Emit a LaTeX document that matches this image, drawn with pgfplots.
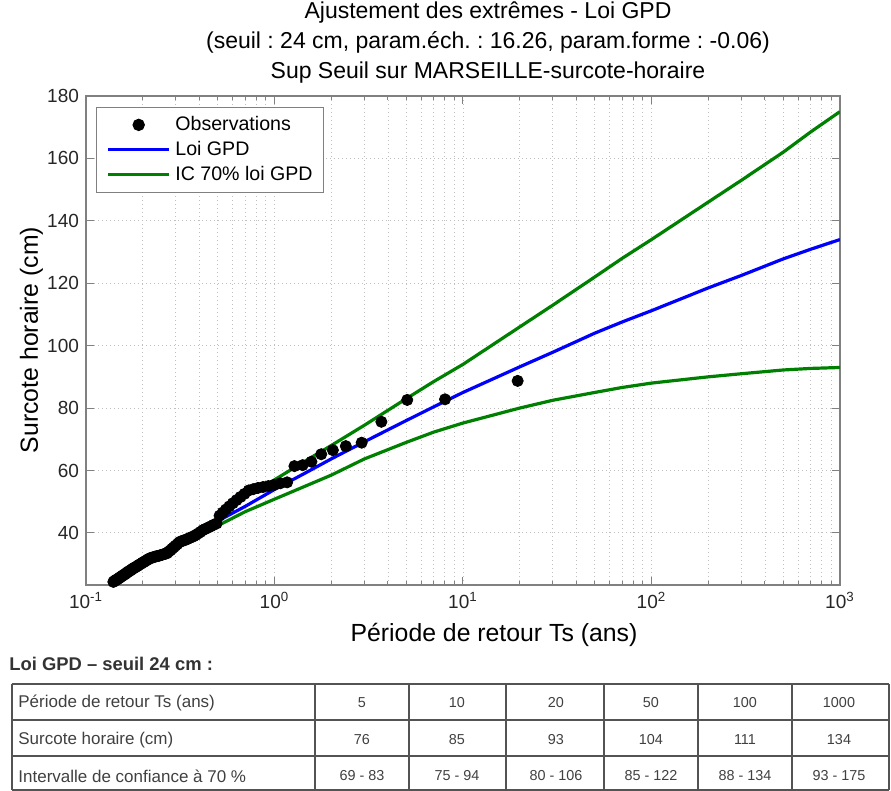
\documentclass[border=0pt]{standalone}
\usepackage{pgfplots}
\pgfplotsset{compat=1.18}
\usepackage{fontspec}
\setmainfont{Liberation Sans}
\definecolor{mgreen}{rgb}{0,0.5,0}
\definecolor{axgray}{rgb}{0.5,0.5,0.5}
\begin{document}
\frenchspacing
\begin{tikzpicture}[font=\fontsize{9.5}{11.4}\selectfont]
\useasboundingbox (-43pt,-103pt) rectangle (402.5pt,292.5pt);
\begin{axis}[
  at={(0pt,0pt)}, anchor=south west,
  scale only axis, width=377pt, height=244.5pt,
  xmode=log, xmin=0.1, xmax=1000, ymin=23.3, ymax=180,
  xtick={0.1,1,10,100,1000},
  xticklabels={10\textsuperscript{-1},10\textsuperscript{0},10\textsuperscript{1},10\textsuperscript{2},10\textsuperscript{3}},
  ytick={40,60,80,100,120,140,160,180},
  /pgf/number format/assume math mode=true,
  tick align=inside,
  major tick length=3.8pt, minor tick length=2pt,
  axis line style={axgray, line width=0.6pt},
  every tick/.style={axgray, line width=0.5pt},
  tick label style={font=\fontsize{9.5}{11.4}\selectfont, black!85},
  xmajorgrids=true, xminorgrids=true, ymajorgrids=true,
  major grid style={gray!50, line width=0.45pt, dash pattern=on 0.5pt off 1.5pt},
  minor grid style={gray!50, line width=0.45pt, dash pattern=on 0.5pt off 1.5pt},
  legend cell align=left,
  legend style={at={(0,1)}, anchor=north west, xshift=5pt, yshift=-5.3pt,
    draw=axgray, line width=0.6pt, fill=white, font=\fontsize{9.8}{11.8}\selectfont,
    inner xsep=5pt, inner ysep=4pt, row sep=2.8pt,
    nodes={inner xsep=0.5pt, inner ysep=0pt, text height=7.5pt, text depth=2.2pt},
    /tikz/every odd column/.append style={column sep=1.8pt}},
  legend image code/.code={\draw[mark repeat=2,mark phase=2,#1] plot coordinates {(0pt,0pt) (15.25pt,0pt) (30.5pt,0pt)};},
]
\addplot[only marks, mark=*, mark size=2.8pt, black, mark options={fill=black}] coordinates {
(19.5,88.7) (8.03,82.8) (5.06,82.6) (3.69,75.6) (2.90,68.9) (2.39,67.8) (2.04,66.5) (1.77,65.2)
(1.57,62.8) (1.41,61.7) (1.276,61.4) (1.167,56.2) (1.075,55.9) (0.9964,55.4) (0.9286,55.0) (0.8694,54.7)
(0.8174,54.4) (0.7712,54.0) (0.7299,53.6) (0.6929,52.5) (0.6594,51.5) (0.6290,50.5) (0.6013,49.5) (0.5759,48.5)
(0.5526,47.5) (0.5311,46.5) (0.5112,45.5) (0.4928,43.0) (0.4756,42.6) (0.4596,42.1) (0.4446,41.7) (0.4306,41.3)
(0.4174,40.9) (0.4050,40.3) (0.3934,39.8) (0.3824,39.3) (0.3719,38.9) (0.3621,38.6) (0.3527,38.3) (0.3438,38.0)
(0.3354,37.7) (0.3273,37.5) (0.3197,37.3) (0.3124,37.0) (0.3054,36.4) (0.2987,35.9) (0.2923,35.4) (0.2862,34.9)
(0.2803,34.4) (0.2746,34.0) (0.2692,33.5) (0.2640,33.3) (0.2590,33.2) (0.2542,33.0) (0.2495,32.9) (0.2451,32.7)
(0.2407,32.6) (0.2366,32.5) (0.2325,32.4) (0.2286,32.2) (0.2249,32.1) (0.2212,32.0) (0.2177,31.8) (0.2143,31.6)
(0.2110,31.3) (0.2078,31.1) (0.2046,30.8) (0.2016,30.6) (0.1987,30.4) (0.1958,30.1) (0.1931,29.9) (0.1904,29.7)
(0.1878,29.4) (0.1852,29.2) (0.1827,29.0) (0.1803,28.8) (0.1780,28.6) (0.1757,28.4) (0.1734,28.1) (0.1713,27.9)
(0.1691,27.7) (0.1671,27.5) (0.1651,27.3) (0.1631,27.0) (0.1612,26.8) (0.1593,26.6) (0.1574,26.4) (0.1556,26.2)
(0.1539,26.0) (0.1522,25.8) (0.1505,25.6) (0.1489,25.4) (0.1472,25.2) (0.1457,25.0) (0.1441,24.9) (0.1426,24.7)
(0.1412,24.5) (0.1397,24.3)
};
\addlegendentry{Observations}
\addplot[blue, line width=1.6pt, mark=none] coordinates {
(0.5,43.8) (0.7,48.5) (1,53.9) (1.5,59.6) (2,63.7) (3,69.2) (5,76) (7,80.4) (10,85) (20,93.2)
(30,97.9) (50,104) (70,107.6) (100,111.2) (200,118.5) (300,122.5) (500,127.8) (700,130.9) (1000,134)
};
\addlegendentry{Loi GPD}
\addplot[mgreen, line width=1.6pt, mark=none] coordinates {
(0.5,46.5) (0.7,51.6) (1,57) (1.5,63.5) (2,68) (3,74.5) (5,83) (7,88.5) (10,94) (20,106)
(30,113) (50,122) (70,128) (100,134) (200,146) (300,153) (500,162) (700,168.5) (1000,175)
};
\addlegendentry{IC 70\% loi GPD}
\addplot[mgreen, line width=1.6pt, mark=none, forget plot] coordinates {
(0.5,42.3) (0.7,46.8) (1,50.8) (1.5,55.3) (2,58.5) (3,63.7) (5,69) (7,72.3) (10,75.2) (20,80)
(30,82.5) (50,85) (70,86.6) (100,88) (200,90) (300,91) (500,92.2) (700,92.7) (1000,93)
};
\end{axis}
\begin{scope}[shift={(-43pt,292.5pt)}, x=0.5pt, y=-0.5pt]
  % titles
  \begin{scope}[font=\fontsize{11.5}{13.8}\selectfont]
  \node[anchor=base] at (488,19) {Ajustement des extrêmes - Loi GPD};
  \node[anchor=base] at (488,49) {(seuil : 24 cm, param.éch. : 16.26, param.forme : -0.06)};
  \node[anchor=base] at (488,79) {Sup Seuil sur MARSEILLE-surcote-horaire};
  \end{scope}
  % axis labels
  \begin{scope}[font=\fontsize{12.4}{14.8}\selectfont]
  \node[anchor=base] at (494,642) {Période de retour Ts (ans)};
  \node[anchor=base, rotate=90] at (38,340) {Surcote horaire (cm)};
  \end{scope}
  % table
  \node[anchor=base west, inner sep=0pt, font=\bfseries\fontsize{9.2}{11}\selectfont, black!80] at (9,671) {Loi GPD – seuil 24 cm :};
  \begin{scope}[gray!65!black, line width=0.7pt]
    \foreach \yy in {684,720,756,790} \draw (12,\yy) -- (889,\yy);
    \foreach \xx in {12,315,409,506,604,698,792,889} \draw (\xx,684) -- (\xx,790);
  \end{scope}
  \begin{scope}[black!75]
    \begin{scope}[font=\fontsize{8.5}{10}\selectfont]
    \node[anchor=west, inner xsep=0pt] at (18,703) {Période de retour Ts (ans)};
    \node[anchor=west, inner xsep=0pt] at (18,740) {Surcote horaire (cm)};
    \node[anchor=west, inner xsep=0pt] at (18,776) {Intervalle de confiance à 70 \%};
    \end{scope}
    \begin{scope}[font=\fontsize{7.2}{8.6}\selectfont]
    \foreach \cx/\a/\b/\c in {362/5/76/69 - 83, 457/10/85/75 - 94, 556/20/93/80 - 106, 651/50/104/85 - 122, 745/100/111/88 - 134, 839/1000/134/93 - 175} {
      \node at (\cx,703) {\a};
      \node at (\cx,740) {\b};
      \node at (\cx,776) {\c};
    }
    \end{scope}
  \end{scope}
\end{scope}
\end{tikzpicture}
\end{document}
